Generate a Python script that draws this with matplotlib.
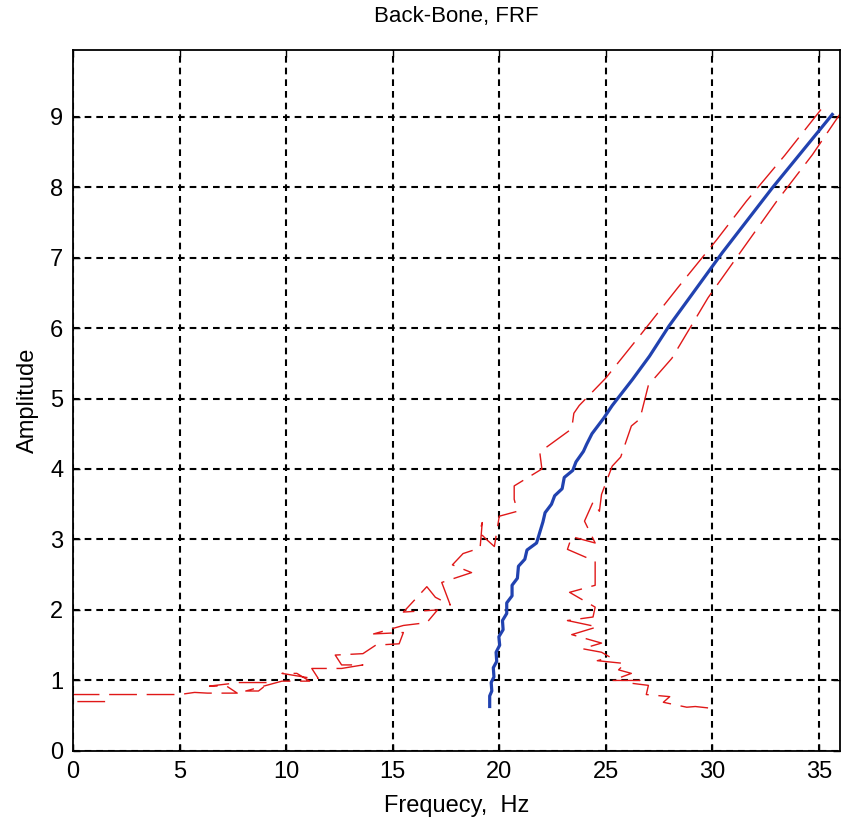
import matplotlib
matplotlib.use("Agg")
import matplotlib.pyplot as plt

# backbone curve (resonance frequency vs amplitude)
bb_freq = [19.55, 19.55, 19.65, 19.62, 19.75, 19.72, 19.88, 19.85, 20.02, 19.98,
           20.18, 20.15, 20.35, 20.35, 20.6, 20.6, 20.85, 20.9, 21.2, 21.3,
           21.75, 21.9, 22.05, 22.15, 22.45, 22.6, 22.95, 23.05, 23.45, 23.6,
           23.95, 24.1, 24.35, 24.6, 24.9, 25.3, 26.25, 27.05, 27.97, 30.47,
           32.82, 35.63]
bb_amp = [0.63, 0.78, 0.85, 0.97, 1.05, 1.18, 1.27, 1.4, 1.5, 1.62,
          1.72, 1.85, 1.95, 2.1, 2.2, 2.35, 2.45, 2.62, 2.72, 2.85,
          2.95, 3.1, 3.25, 3.38, 3.5, 3.62, 3.72, 3.88, 3.98, 4.1,
          4.25, 4.35, 4.5, 4.6, 4.72, 4.9, 5.27, 5.6, 6.03, 7.07,
          7.99, 9.03]

# lower half-power branch
lo_freq = [1.5, 0.0, 0.0, 5.0, 5.7, 6.3, 7.7, 7.2, 6.4, 7.8, 9.2, 8.7, 8.1,
           9.8, 11.1, 10.5, 9.8, 11.2, 11.5, 11.2, 12.6, 13.6, 12.6, 12.3, 13.6,
           14.2, 15.3, 15.5, 14.1, 15.5, 16.6, 17.1, 15.5, 16.6, 17.0, 17.7,
           17.3, 18.7, 17.8, 18.3, 19.1, 19.2, 19.07, 19.4, 19.77, 20.0, 20.85,
           20.7, 20.7, 22.0, 21.9, 23.4, 23.5, 23.75, 25.0, 26.7, 28.4, 30.2,
           31.6, 33.4, 35.1]
lo_amp = [0.70, 0.70, 0.80, 0.80, 0.83, 0.82, 0.82, 0.92, 0.92, 0.97, 0.97, 0.85, 0.85,
          0.99, 0.99, 1.10, 1.10, 1.03, 1.03, 1.17, 1.17, 1.22, 1.22, 1.36, 1.38,
          1.50, 1.52, 1.68, 1.66, 1.78, 1.82, 2.00, 1.97, 2.33, 2.18, 2.07,
          2.39, 2.53, 2.64, 2.80, 2.88, 3.24, 3.10, 3.00, 2.90, 3.33, 3.40,
          3.57, 3.76, 4.00, 4.24, 4.57, 4.79, 4.90, 5.29, 5.93, 6.58, 7.25,
          7.80, 8.45, 9.10]

# upper half-power branch
hi_freq = [29.8, 29.2, 28.8, 27.7, 28.0, 26.9, 27.0, 26.2, 26.6, 25.3, 26.2,
           25.6, 25.9, 24.6, 25.2, 24.8, 23.9, 24.8, 23.4, 24.6, 23.2, 24.4,
           24.5, 23.3, 24.5, 24.5, 23.2, 23.4, 24.5, 24.0, 24.4, 24.7, 24.8,
           25.3, 25.7, 26.2, 26.6, 27.0, 28.1, 29.8, 31.4, 33.0, 34.7, 36.0]
hi_amp = [0.61, 0.63, 0.62, 0.69, 0.77, 0.80, 0.93, 0.96, 1.00, 1.00, 1.10,
          1.15, 1.24, 1.28, 1.33, 1.40, 1.45, 1.53, 1.65, 1.76, 1.85, 1.90,
          2.04, 2.25, 2.35, 2.69, 2.86, 3.04, 2.95, 3.26, 3.53, 3.40, 3.64,
          4.04, 4.17, 4.61, 4.71, 5.19, 5.57, 6.43, 7.11, 7.79, 8.46, 9.04]

plt.rcParams['font.family'] = ['Liberation Sans', 'DejaVu Sans']

fig = plt.figure(figsize=(8.41, 8.27), dpi=100)
ax = fig.add_axes([0.087, 0.092, 0.912, 0.848])

ax.plot(lo_freq, lo_amp, color='#e01818', lw=1.0, dashes=(20, 7))
ax.plot(hi_freq, hi_amp, color='#e01818', lw=1.0, dashes=(20, 7))
ax.plot(bb_freq, bb_amp, color='#2142b0', lw=2.3)

ax.set_xlim(0, 36)
ax.set_ylim(0, 9.95)
ax.set_xticks(range(0, 36, 5))
ax.set_yticks(range(0, 10))
ax.grid(True, color='black', linestyle=(0, (3.2, 2.4)), linewidth=1.5)
ax.tick_params(direction='in', length=5, width=1, labelsize=17,
               top=True, right=True, pad=7)
for s in ax.spines.values():
    s.set_linewidth(1.3)

ax.set_title('Back-Bone, FRF', fontsize=16, pad=20)
ax.set_xlabel('Frequecy,  Hz', fontsize=17, labelpad=9)
ax.set_ylabel('Amplitude', fontsize=17, labelpad=8)

fig.savefig('out.png', dpi=100)
